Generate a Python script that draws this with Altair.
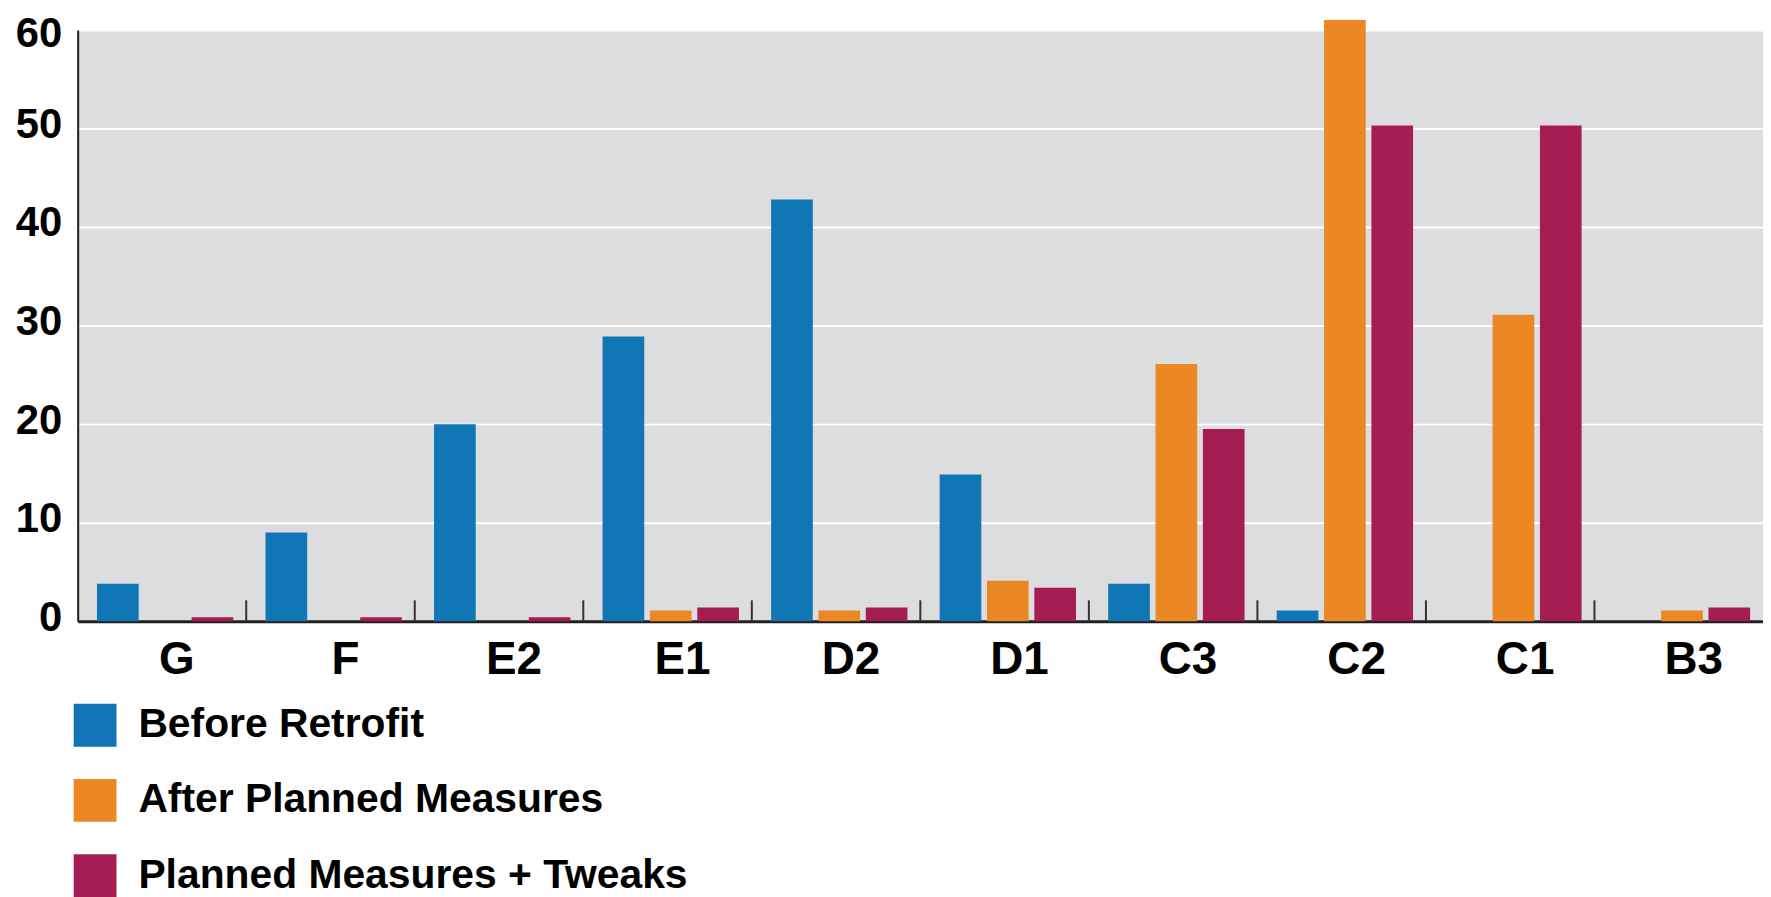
import altair as alt
import pandas as pd

categories = ["G", "F", "E2", "E1", "D2", "D1", "C3", "C2", "C1", "B3"]
series_names = ["Before Retrofit", "After Planned Measures", "Planned Measures + Tweaks"]
before_retrofit = [3.8, 9.0, 20.0, 28.9, 42.8, 14.9, 3.8, 1.1, 0.0, 0.0]
after_planned = [0.0, 0.0, 0.0, 1.1, 1.1, 4.1, 26.1, 61.0, 31.1, 1.1]
planned_tweaks = [0.4, 0.4, 0.4, 1.4, 1.4, 3.4, 19.5, 50.3, 50.3, 1.4]
y_ticks = [0, 10, 20, 30, 40, 50, 60]
colors = ["#1176b5", "#ec8824", "#a51d53"]

rows = []
for name, vals in zip(series_names, [before_retrofit, after_planned, planned_tweaks]):
    for c, v in zip(categories, vals):
        rows.append({"cat": c, "series": name, "value": v})
df = pd.DataFrame(rows)
sep_df = pd.DataFrame({"cat": categories[:-1]})

FONT = "Liberation Sans"
W, H = 1693, 594

x_enc = alt.X("cat:N", sort=categories, title=None,
              scale=alt.Scale(paddingInner=0, paddingOuter=0),
              axis=alt.Axis(labelFontSize=46, labelFontWeight="bold", labelFont=FONT,
                            labelColor="#000000", labelPadding=17, labelOffset=15,
                            ticks=False, domainColor="#231f20", domainWidth=3,
                            labelAngle=0, grid=False))

bars = alt.Chart(df).mark_bar(opacity=1, clip=False).encode(
    x=x_enc,
    xOffset=alt.XOffset("series:N", sort=series_names,
                        scale=alt.Scale(paddingInner=0.12, paddingOuter=0.34, align=0.6)),
    y=alt.Y("value:Q", title=None,
            scale=alt.Scale(domain=[0, 60], nice=False),
            axis=alt.Axis(values=y_ticks, labelFontSize=42, labelFontWeight="bold",
                          labelFont=FONT, labelColor="#000000", labelPadding=16,
                          labelOffset={"condition": {"test": "datum.value === 60", "value": 4},
                                       "value": -4},
                          ticks=False, domainColor="#231f20",
                          domainWidth=2, gridColor="#ffffff", gridWidth=2,
                          gridOpacity=1)),
    color=alt.Color("series:N", sort=series_names,
                    scale=alt.Scale(domain=series_names, range=colors),
                    legend=alt.Legend(title=None, orient="none", legendX=-4, legendY=677,
                                      direction="vertical", symbolType="square",
                                      symbolSize=1849, symbolStrokeWidth=0,
                                      symbolOpacity=1, labelFontSize=41,
                                      labelFontWeight="bold", labelFont=FONT,
                                      labelColor="#000000", labelOffset=22,
                                      rowPadding=32.5, padding=0, labelLimit=1000)),
)

seps = alt.Chart(sep_df).mark_rule(color="#333333", strokeWidth=2).encode(
    x=alt.X("cat:N", sort=categories, bandPosition=1),
    y=alt.value(H),
    y2=alt.value(H - 21),
)

chart = alt.layer(bars, seps).properties(
    width=W, height=H,
    autosize=alt.AutoSizeParams(type="none"),
    padding={"left": 70, "top": 20, "right": 0, "bottom": 275},
).configure_view(fill="#dcdddf", stroke=None)

chart.save("out.html", embed_options={"renderer": "svg", "actions": False})
